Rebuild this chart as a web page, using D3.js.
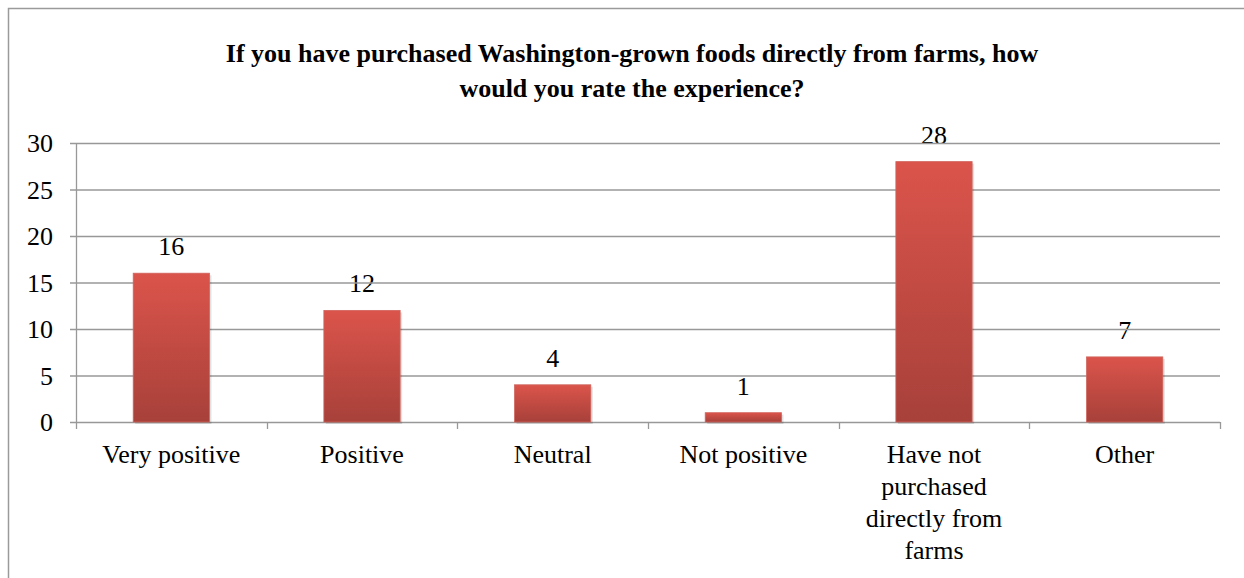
<!DOCTYPE html>
<body>
<script src="https://d3js.org/d3.v7.min.js"></script>
<script>
var width = 1244;
var height = 578;
var padding = { top: 143, right: 24, bottom: 156, left: 76 };

var categories = ['Very positive', 'Positive', 'Neutral', 'Not positive', 'Have not purchased directly from farms', 'Other'];
var categoryLines = [['Very positive'], ['Positive'], ['Neutral'], ['Not positive'], ['Have not', 'purchased', 'directly from', 'farms'], ['Other']];
var values = [16, 12, 4, 1, 28, 7];
var yTicks = [0, 5, 10, 15, 20, 25, 30];
var titleLines = ['If you have purchased Washington-grown foods directly from farms, how', 'would you rate the experience?'];

var font = '"Liberation Serif", monospace';

d3.select('body').style('margin', '0px');
var svg = d3.select('body').append('svg')
  .attr('width', width)
  .attr('height', height);

var plotW = width - padding.left - padding.right;
var plotH = height - padding.top - padding.bottom;

var xScale = d3.scaleBand().domain(categories).range([0, plotW]).paddingInner(0.6).paddingOuter(0.3);
var xTickScale = d3.scaleLinear().domain([0, categories.length]).range([0, plotW]);
var yScale = d3.scaleLinear().domain([0, 30]).range([plotH, 0]);

// texts first, straight into the svg, placed by measured width
function addText(str, cx, y, size, anchor, bold) {
  var t = svg.append('text')
    .attr('x', 0).attr('y', y)
    .attr('font-size', size)
    .style('font-family', font)
    .text(str);
  if (bold) t.style('font-weight', 'bold');
  var w = t.node().getComputedTextLength();
  var x = anchor === 'middle' ? cx - w / 2 : (anchor === 'end' ? cx - w : cx);
  t.attr('x', x);
  return t;
}

titleLines.forEach(function(l, i) {
  addText(l, 632, 62 + i * 35, 26, 'middle', true);
});

yTicks.forEach(function(d) {
  addText(String(d), padding.left - 23, padding.top + yScale(d) + 9, 26, 'end', false);
});

values.forEach(function(d, i) {
  addText(String(d), padding.left + xScale(categories[i]) + xScale.bandwidth() / 2,
    padding.top + yScale(d) - 18, 26, 'middle', false);
});

categoryLines.forEach(function(lines, i) {
  lines.forEach(function(l, j) {
    addText(l, padding.left + xScale(categories[i]) + xScale.bandwidth() / 2,
      padding.top + plotH + 41 + j * 32, 26, 'middle', false);
  });
});

// gradient
var grad = svg.append('defs').append('linearGradient')
  .attr('id', 'barGrad').attr('x1', 0).attr('y1', 0).attr('x2', 0).attr('y2', 1);
grad.append('stop').attr('offset', '0%').attr('stop-color', '#db544b');
grad.append('stop').attr('offset', '100%').attr('stop-color', '#a7413a');

// border
svg.append('rect')
  .attr('x', 8.5).attr('y', 8.5)
  .attr('width', width + 20).attr('height', height + 20)
  .attr('fill', 'none').attr('stroke', '#9a9a9a').attr('stroke-width', 1.5);

var g = svg.append('g').attr('transform', 'translate(' + padding.left + ',' + padding.top + ')');

// grid lines
g.selectAll('.grid').data(yTicks).enter().append('line')
  .attr('x1', -6).attr('x2', plotW)
  .attr('y1', function(d){ return yScale(d) + 0.5; })
  .attr('y2', function(d){ return yScale(d) + 0.5; })
  .attr('stroke', '#989898').attr('stroke-width', 1.3);

g.append('line').attr('x1', 0.5).attr('x2', 0.5).attr('y1', 0).attr('y2', plotH)
  .attr('stroke', '#989898').attr('stroke-width', 1.3);

// x ticks
g.selectAll('.xtick').data(d3.range(categories.length + 1)).enter().append('line')
  .attr('x1', function(d){ return Math.round(xTickScale(d)) + 0.5; })
  .attr('x2', function(d){ return Math.round(xTickScale(d)) + 0.5; })
  .attr('y1', plotH).attr('y2', plotH + 7)
  .attr('stroke', '#989898').attr('stroke-width', 1.3);

// bar shadows
g.selectAll('.shadow').data(values).enter().append('rect')
  .attr('x', function(d, i){ return xScale(categories[i]) + 2; })
  .attr('y', function(d){ return yScale(d) + 2; })
  .attr('width', xScale.bandwidth())
  .attr('height', function(d){ return plotH - yScale(d); })
  .attr('fill', '#000').attr('opacity', 0.12);

// bars
g.selectAll('.bar').data(values).enter().append('rect')
  .attr('x', function(d, i){ return xScale(categories[i]); })
  .attr('y', function(d){ return yScale(d); })
  .attr('width', xScale.bandwidth())
  .attr('height', function(d){ return plotH - yScale(d); })
  .attr('fill', 'url(#barGrad)')
  .attr('stroke', '#d0655d').attr('stroke-width', 0.8);
</script>
</body>
